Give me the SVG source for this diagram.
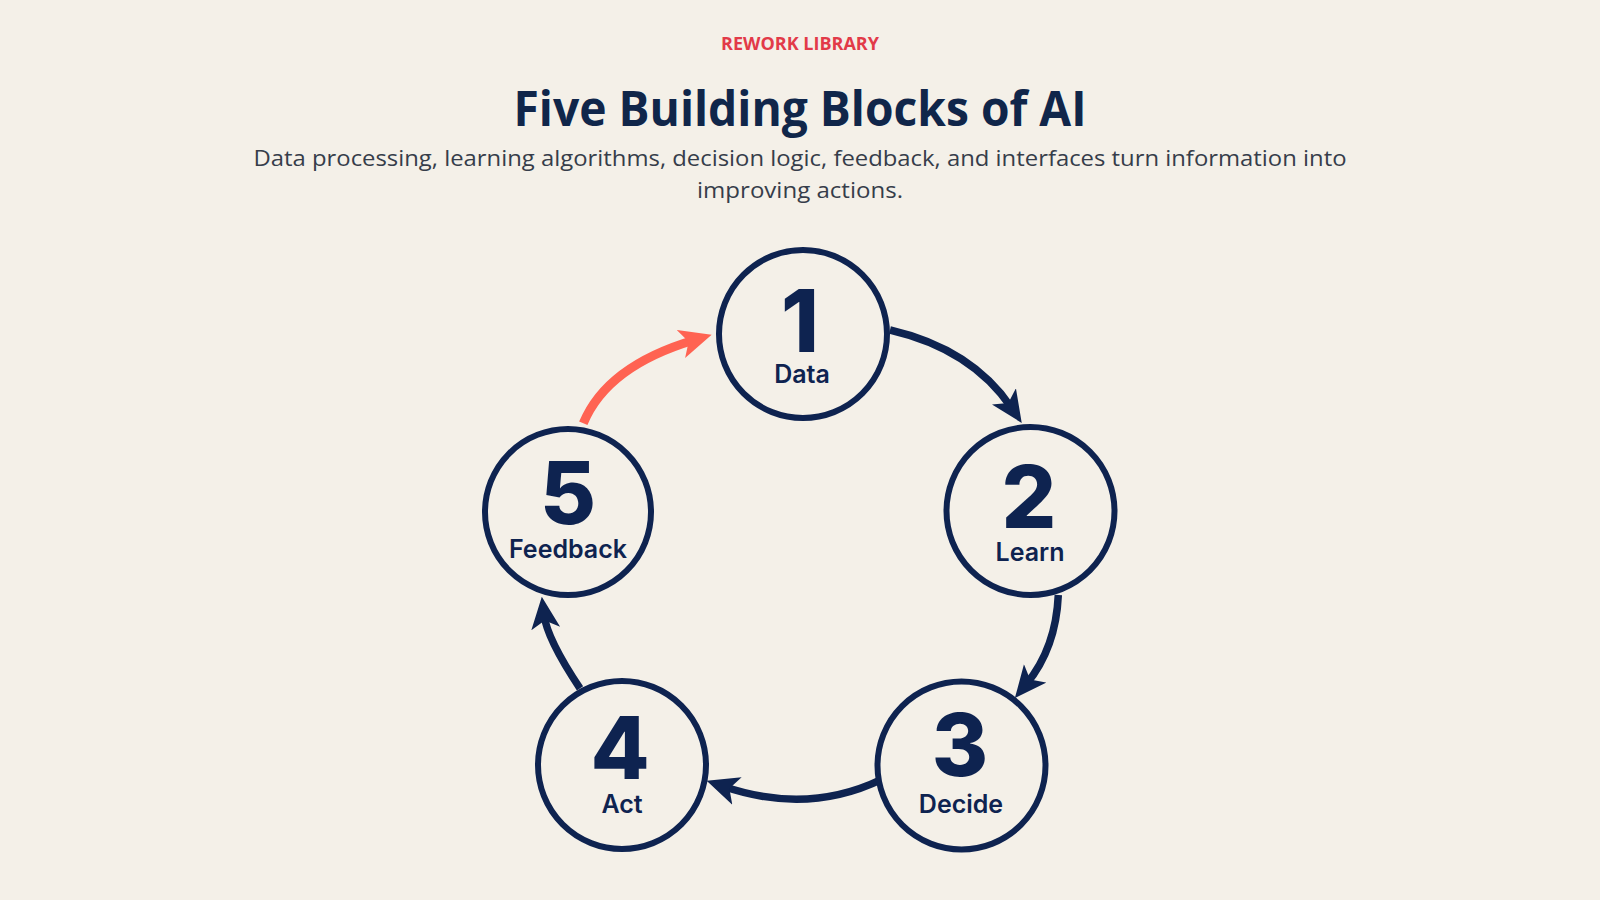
<svg xmlns="http://www.w3.org/2000/svg" width="1600" height="900" viewBox="0 0 1600 900">
  <defs>
    <style>
      .kicker { font-family: "Open Sans", "Liberation Sans", sans-serif; font-weight: 700; font-size: 17px; fill: #E23A48; }
      .title { font-family: "Open Sans", "Liberation Sans", sans-serif; font-weight: 700; font-size: 48px; fill: #10264A; }
      .sub { font-family: "Open Sans", "Liberation Sans", sans-serif; font-weight: 400; font-size: 22px; fill: #363D4A; }
      .ring { fill: #F4F0E8; stroke: #0E2350; stroke-width: 6; }
      .num { font-family: Inter, "Liberation Sans", sans-serif; font-weight: 800; font-size: 86px; fill: #0E2350; text-anchor: middle; }
      .lbl { font-family: Inter, "Liberation Sans", sans-serif; font-weight: 600; font-size: 25px; fill: #0E2350; text-anchor: middle; }
      .flow { fill: none; stroke: #0E2350; stroke-width: 7.5; marker-end: url(#headNavy); }
      .back { fill: none; stroke: #FF6352; stroke-width: 9; marker-end: url(#headCoral); }
    </style>
    <marker id="headNavy" markerUnits="userSpaceOnUse" viewBox="0 -15 32 30" refX="14" refY="0" markerWidth="32" markerHeight="30" orient="auto">
      <path d="M0,-14.5 L32,0 L0,14.5 L8,0 Z" fill="#0E2350"/>
    </marker>
    <marker id="headCoral" markerUnits="userSpaceOnUse" viewBox="0 -15 32 30" refX="14" refY="0" markerWidth="32" markerHeight="30" orient="auto">
      <path d="M0,-14.5 L32,0 L0,14.5 L8,0 Z" fill="#FF6352"/>
    </marker>
  </defs>

  <rect x="0" y="0" width="1600" height="900" fill="#F4F0E8"/>

  <g id="header">
    <text class="kicker" x="800" y="50" text-anchor="middle" textLength="158" lengthAdjust="spacingAndGlyphs">REWORK LIBRARY</text>
    <text class="title" x="800" y="126" text-anchor="middle" textLength="573" lengthAdjust="spacingAndGlyphs">Five Building Blocks of AI</text>
    <text class="sub" x="800" y="166" text-anchor="middle" textLength="1093" lengthAdjust="spacingAndGlyphs">Data processing, learning algorithms, decision logic, feedback, and interfaces turn information into</text>
    <text class="sub" x="800" y="198" text-anchor="middle" textLength="206" lengthAdjust="spacingAndGlyphs">improving actions.</text>
  </g>

  <g id="connectors">
    <path class="flow" d="M890,330 Q972,349 1011.7,408"/>
    <path class="flow" d="M1058.3,595 Q1056,648 1026.3,684.2"/>
    <path class="flow" d="M881.7,779.3 Q807.5,815 723.7,786.5"/>
    <path class="flow" d="M580,688.3 Q547,639 544,614.6"/>
    <path class="back" d="M583.3,423.3 Q607,366 694.4,340"/>
  </g>

  <g id="node-1">
    <circle class="ring" cx="803" cy="334" r="84"/>
    <text class="num" x="800" y="352">1</text>
    <text class="lbl" x="802" y="383">Data</text>
  </g>
  <g id="node-2">
    <circle class="ring" cx="1030.5" cy="511" r="84"/>
    <text class="num" x="1029" y="528">2</text>
    <text class="lbl" x="1030" y="561">Learn</text>
  </g>
  <g id="node-3">
    <circle class="ring" cx="961.5" cy="765.5" r="84"/>
    <text class="num" x="960" y="776">3</text>
    <text class="lbl" x="961" y="813">Decide</text>
  </g>
  <g id="node-4">
    <circle class="ring" cx="622" cy="765" r="84"/>
    <text class="num" x="620" y="779">4</text>
    <text class="lbl" x="622" y="813">Act</text>
  </g>
  <g id="node-5">
    <circle class="ring" cx="568" cy="512" r="83"/>
    <text class="num" x="568" y="524">5</text>
    <text class="lbl" x="568" y="558">Feedback</text>
  </g>
</svg>
